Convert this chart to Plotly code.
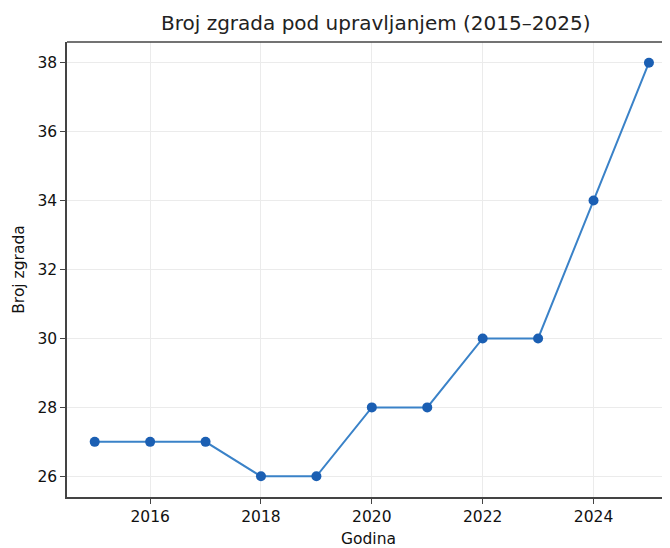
import plotly.graph_objects as go

years = [2015, 2016, 2017, 2018, 2019, 2020, 2021, 2022, 2023, 2024, 2025]
buildings = [27, 27, 27, 26, 26, 28, 28, 30, 30, 34, 38]
x_ticks = [2016, 2018, 2020, 2022, 2024]
y_ticks = [26, 28, 30, 32, 34, 36, 38]

fig = go.Figure()
fig.add_trace(go.Scatter(
    x=years, y=buildings, mode="lines+markers",
    line=dict(color="#3a82c8", width=2),
    marker=dict(color="#1b5fb3", size=10),
    showlegend=False,
))

font = "DejaVu Sans, sans-serif"
fig.update_layout(
    width=662, height=540,
    margin=dict(l=59, r=0, t=34, b=51),
    paper_bgcolor="white", plot_bgcolor="white",
    font=dict(family=font, size=15, color="#111"),
    title=dict(text="Broj zgrada pod upravljanjem (2015–2025)",
               x=0.512, xref="paper", xanchor="center",
               y=1 - 15/540, yref="container", yanchor="middle",
               font=dict(size=20, family=font, color="#222")),
    xaxis=dict(range=[2014.5, 2025.38], tickvals=x_ticks, ticks="outside",
               ticklen=5, tickcolor="#444", showline=True, linecolor="#444",
               linewidth=1.5, showgrid=True, gridcolor="#ebebeb", gridwidth=1,
               zeroline=False, automargin=False, tickfont=dict(size=15.5),
               title=dict(text="Godina", standoff=11, font=dict(size=15.5))),
    yaxis=dict(range=[25.4, 38.6], tickvals=y_ticks, ticks="outside",
               ticklen=5, tickcolor="#444", showline=True, linecolor="#444",
               linewidth=1.5, showgrid=True, gridcolor="#ebebeb", gridwidth=1,
               zeroline=False, automargin=False, tickfont=dict(size=15.5),
               title=dict(text="Broj zgrada", standoff=9, font=dict(size=15.5))),
)
fig.add_shape(type="line", xref="paper", yref="paper", x0=0, x1=1, y0=1, y1=1,
              line=dict(color="#444", width=1.5))
fig.write_html("out.html")
